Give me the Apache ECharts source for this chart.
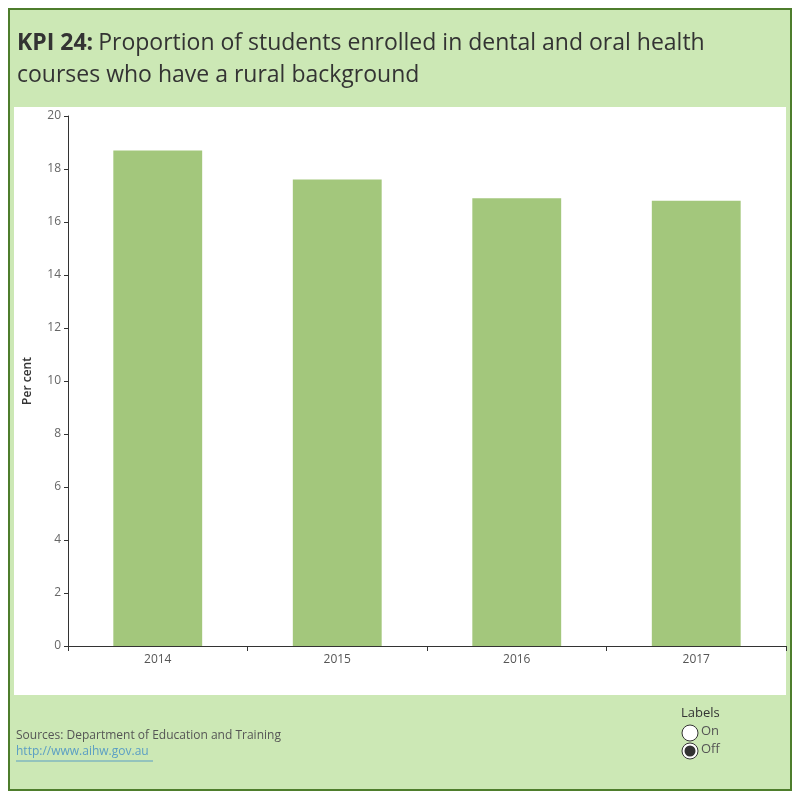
<!DOCTYPE html>
<html>
<head>
<meta charset="utf-8">
<script src="https://cdn.jsdelivr.net/npm/echarts@6/dist/echarts.min.js"></script>
<style>html,body{margin:0;padding:0;background:#fff}#c{width:800px;height:800px}</style>
</head>
<body>
<div id="c"></div>
<script>
const categories = ['2014', '2015', '2016', '2017'];
const values = [18.7, 17.6, 16.9, 16.8];
const yTicks = [0, 20, 2];

const chart = echarts.init(document.getElementById('c'), null, {renderer: 'canvas'});
const font = '"Open Sans", Lato, sans-serif';
chart.setOption({
  animation: false,
  backgroundColor: '#ffffff',
  graphic: [
    {type: 'rect', z: -10, shape: {x: 9, y: 9, width: 782, height: 781}, style: {fill: '#cce8b5', stroke: '#4e7d2c', lineWidth: 2}},
    {type: 'rect', z: -9, shape: {x: 14, y: 107, width: 772, height: 588}, style: {fill: '#ffffff'}},
    {type: 'text', left: 16, top: 730, style: {text: 'Sources: Department of Education and Training', fill: '#555555', font: '12px ' + font}},
    {type: 'text', left: 16, top: 746, style: {text: 'http://www.aihw.gov.au', fill: '#5b9ec4', font: '12px ' + font}},
    {type: 'line', shape: {x1: 16, y1: 761, x2: 153, y2: 761}, style: {stroke: '#5b9ec4', lineWidth: 1}},
    {type: 'text', left: 681, top: 707, style: {text: 'Labels', fill: '#333333', font: '13px ' + font}},
    {type: 'circle', shape: {cx: 690, cy: 733, r: 8}, style: {fill: '#ffffff', stroke: '#333', lineWidth: 1}},
    {type: 'text', left: 701, top: 725, style: {text: 'On', fill: '#555555', font: '13px ' + font}},
    {type: 'circle', shape: {cx: 690, cy: 751, r: 8}, style: {fill: '#ffffff', stroke: '#333', lineWidth: 1}},
    {type: 'circle', shape: {cx: 690, cy: 751, r: 5.5}, style: {fill: '#333333'}},
    {type: 'text', left: 701, top: 743, style: {text: 'Off', fill: '#555555', font: '13px ' + font}}
  ],
  title: {
    left: 12, top: 22,
    text: '{b|KPI 24:} {n|Proportion of students enrolled in dental and oral health}\n{n|courses who have a rural background}',
    textStyle: {
      fontWeight: 'normal',
      rich: {
        b: {fontFamily: font, fontSize: 23, fontWeight: 'bold', color: '#333333', lineHeight: 32},
        n: {fontFamily: font, fontSize: 23, fontWeight: 'normal', color: '#333333', lineHeight: 32}
      }
    }
  },
  grid: {left: 68, right: 14, top: 116, bottom: 154, containLabel: false},
  xAxis: {
    type: 'category', data: categories,
    axisLine: {lineStyle: {color: '#333333', width: 1}},
    axisTick: {show: true, length: 5, alignWithLabel: false, lineStyle: {color: '#333'}},
    axisLabel: {color: '#555555', fontSize: 12, fontFamily: font, margin: 8}
  },
  yAxis: {
    type: 'value', min: yTicks[0], max: yTicks[1], interval: yTicks[2],
    name: 'Per cent', nameLocation: 'middle', nameGap: 34,
    nameTextStyle: {color: '#333333', fontSize: 12, fontFamily: font, fontWeight: 600},
    axisLine: {show: true, lineStyle: {color: '#333333'}},
    axisTick: {show: true, length: 4, lineStyle: {color: '#333'}},
    splitLine: {show: false},
    axisLabel: {color: '#666666', fontSize: 12, fontFamily: font, margin: 7, verticalAlign: 'middle', padding: [0, 0, 3, 0]}
  },
  series: [{
    type: 'bar', data: values, barWidth: '49.5%',
    itemStyle: {color: '#a3c77c'}
  }]
});
</script>
</body>
</html>
